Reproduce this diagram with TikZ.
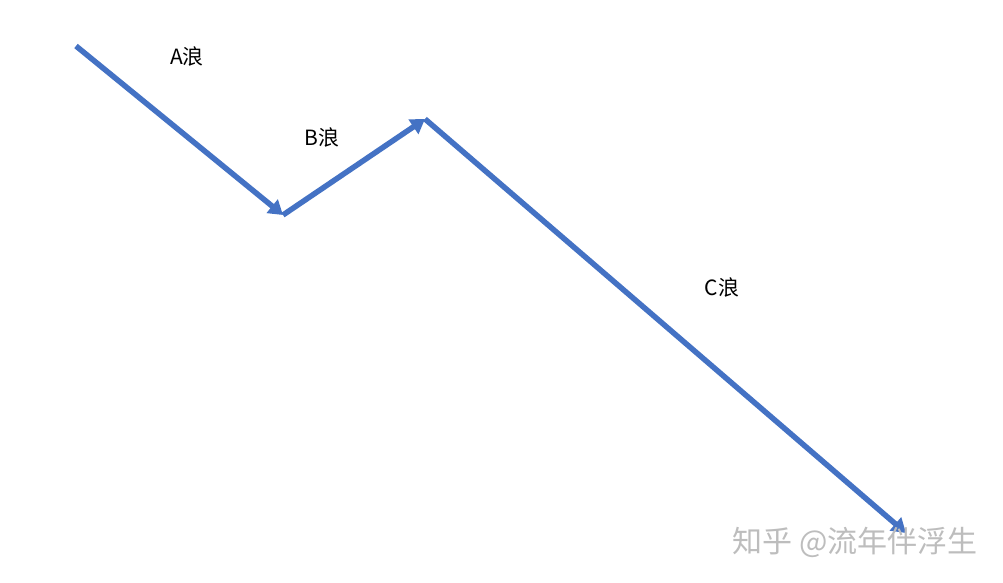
\documentclass[tikz,border=0pt]{standalone}
\usepackage{fontspec}
\setmainfont{Noto Sans CJK SC}
\usetikzlibrary{arrows.meta}
\definecolor{wave}{HTML}{4472C4}
\definecolor{wm}{HTML}{BDBDBD}
\tikzset{
  wavearrow/.style={draw=wave, line width=5.5pt, -{Triangle[length=14pt,width=17pt]}},
  lbl/.style={font=\fontsize{21}{25}\selectfont\addfontfeature{FakeBold=0}, text=black},
}
\begin{document}
\begin{tikzpicture}[x=1pt,y=-1pt]
\useasboundingbox[fill=white] (0,0) rectangle (1003,583);
\coordinate (p0) at (76,46);
\coordinate (p1) at (283,215);
\coordinate (p2) at (425,119);
\coordinate (p3) at (906,533);
\draw[wavearrow] (p0) -- (p1);
\draw[wavearrow] (p1) -- (p2);
\draw[wavearrow] (p2) -- (p3);
\node[lbl] (la) at (187,57) {A浪};
\node[lbl] (lb) at (322,138) {B浪};
\node[lbl] (lc) at (722,288) {C浪};
\node[font=\fontsize{30}{34}\selectfont, text=wm] (wmk) at (855,542) {知乎 @流年伴浮生};
\end{tikzpicture}
\end{document}
